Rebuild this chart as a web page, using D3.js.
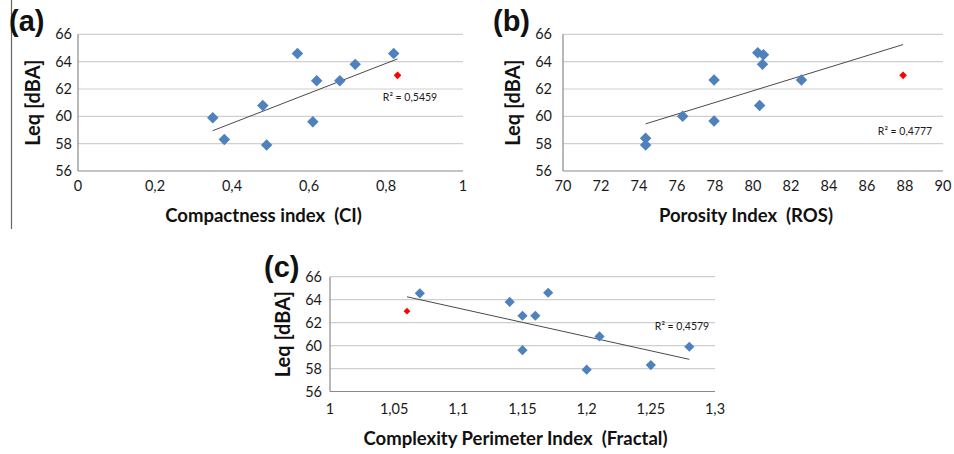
<!DOCTYPE html>
<html>
<head>
<meta charset="utf-8">
<script src="https://cdn.jsdelivr.net/npm/d3@7"></script>
<style>
  body { margin: 0; background: #fff; }
  svg { display: block; font-family: Lato, "Open Sans", sans-serif; }
  text { white-space: pre; }
</style>
</head>
<body>
<div id="chart-area"></div>
<script>
// shared Leq ticks
var leqTicks = [56, 58, 60, 62, 64, 66];

// (a) compactness index
var ciX = [0.35, 0.38, 0.48, 0.49, 0.57, 0.61, 0.62, 0.68, 0.72, 0.82];
var ciY = [59.9, 58.3, 60.8, 57.9, 64.6, 59.6, 62.6, 62.6, 63.8, 64.6];
var ciOutlier = [0.83, 63.0];
var ciTrend = [[0.35, 58.95], [0.83, 64.2]];
var ciTicks = [0, 0.2, 0.4, 0.6, 0.8, 1];

// (b) porosity index
var rosX = [74.35, 74.35, 76.3, 77.95, 77.95, 80.25, 80.55, 80.5, 80.35, 82.55];
var rosY = [58.4, 57.9, 60.0, 62.65, 59.65, 64.65, 64.5, 63.8, 60.8, 62.65];
var rosOutlier = [87.9, 63.0];
var rosTrend = [[74.35, 59.45], [87.9, 65.25]];
var rosTicks = [70, 72, 74, 76, 78, 80, 82, 84, 86, 88, 90];

// (c) fractal complexity
var fracX = [1.07, 1.14, 1.15, 1.16, 1.17, 1.15, 1.21, 1.20, 1.25, 1.28];
var fracY = [64.55, 63.8, 62.6, 62.6, 64.6, 59.6, 60.8, 57.9, 58.3, 59.9];
var fracOutlier = [1.06, 63.0];
var fracTrend = [[1.06, 64.25], [1.28, 58.8]];
var fracTicks = [1, 1.05, 1.1, 1.15, 1.2, 1.25, 1.3];

var fmt = d3.formatLocale({ decimal: ",", thousands: ".", grouping: [3], currency: ["", ""] }).format(".2~f");

var svg = d3.select("#chart-area")
    .append("svg")
    .attr("width", 954)
    .attr("height", 454);

// stray frame line on the left of the original figure
svg.append("line")
    .attr("x1", 11.5).attr("x2", 11.5)
    .attr("y1", 0).attr("y2", 229)
    .attr("stroke", "#666").attr("stroke-width", 1.2);

var panels = [
    { label: "(a)", xs: ciX, ys: ciY, out: ciOutlier, trend: ciTrend, domain: [0, 1], ticks: ciTicks,
      title: "Compactness index  (CI)", r2: "R\u00b2 = 0,5459",
      left: 78, right: 463, top: 34.3, bottom: 171, tickGap: 6, size: 66,
      labelX: 9, labelY: 31, yTitleX: 33, xTitleY: 222, xTickY: 191, r2X: 410, r2Y: 101 },
    { label: "(b)", xs: rosX, ys: rosY, out: rosOutlier, trend: rosTrend, domain: [70, 90], ticks: rosTicks,
      title: "Porosity Index  (ROS)", r2: "R\u00b2 = 0,4777",
      left: 563, right: 943, top: 34.3, bottom: 171, tickGap: 11, size: 66,
      labelX: 493, labelY: 31, yTitleX: 513, xTitleY: 222, xTickY: 191, r2X: 905, r2Y: 135 },
    { label: "(c)", xs: fracX, ys: fracY, out: fracOutlier, trend: fracTrend, domain: [1, 1.3], ticks: fracTicks,
      title: "Complexity Perimeter Index  (Fractal)", r2: "R\u00b2 = 0,4579",
      left: 330, right: 715, top: 276.7, bottom: 391.5, tickGap: 8, size: 52,
      labelX: 264, labelY: 277, yTitleX: 283, xTitleY: 445, xTickY: 414, r2X: 682, r2Y: 330 }
];

panels.forEach(drawPanel);

function drawPanel(p) {
    var x = d3.scaleLinear().domain(p.domain).range([p.left, p.right]);
    var y = d3.scaleLinear().domain([56, 66]).range([p.bottom, p.top]);
    var g = svg.append("g");

    // gridlines
    g.selectAll("line.grid").data(leqTicks.slice(1)).enter().append("line")
        .attr("class", "grid")
        .attr("x1", p.left).attr("x2", p.right)
        .attr("y1", d => y(d)).attr("y2", d => y(d))
        .attr("stroke", "#cfcfcf").attr("stroke-width", 1.2);

    // axes lines
    g.append("line")
        .attr("x1", p.left).attr("x2", p.right)
        .attr("y1", p.bottom).attr("y2", p.bottom)
        .attr("stroke", "#8a8a8a").attr("stroke-width", 1.2);
    g.append("line")
        .attr("x1", p.left).attr("x2", p.left)
        .attr("y1", p.top).attr("y2", p.bottom)
        .attr("stroke", "#8a8a8a").attr("stroke-width", 1.2);

    // y tick labels
    g.selectAll("text.ytick").data(leqTicks).enter().append("text")
        .attr("class", "ytick")
        .attr("x", p.left - p.tickGap)
        .attr("y", d => y(d))
        .attr("dy", "0.35em")
        .attr("text-anchor", "end")
        .attr("font-size", 14.5)
        .attr("fill", "#1a1a1a")
        .text(d => d);

    // x tick labels
    g.selectAll("text.xtick").data(p.ticks).enter().append("text")
        .attr("class", "xtick")
        .attr("x", d => x(d))
        .attr("y", p.xTickY)
        .attr("text-anchor", "middle")
        .attr("font-size", 14.5)
        .attr("fill", "#1a1a1a")
        .text(d => fmt(d));

    // trend line
    g.append("line")
        .attr("x1", x(p.trend[0][0])).attr("y1", y(p.trend[0][1]))
        .attr("x2", x(p.trend[1][0])).attr("y2", y(p.trend[1][1]))
        .attr("stroke", "#4a4a4a").attr("stroke-width", 1);

    // points
    var pts = p.xs.map((v, i) => [v, p.ys[i]]);
    var diamond = d3.symbol().type(d3.symbolSquare).size(p.size);
    g.selectAll("path.pt").data(pts).enter().append("path")
        .attr("class", "pt")
        .attr("d", diamond)
        .attr("transform", d => "translate(" + x(d[0]) + "," + y(d[1]) + ") rotate(45)")
        .attr("fill", "#4f81bd");

    g.append("path")
        .attr("d", d3.symbol().type(d3.symbolSquare).size(p.size * 0.45))
        .attr("transform", "translate(" + x(p.out[0]) + "," + y(p.out[1]) + ") rotate(45)")
        .attr("fill", "#ff0000");

    // r squared
    g.append("text")
        .attr("x", p.r2X).attr("y", p.r2Y)
        .attr("text-anchor", "middle")
        .attr("font-size", 10.5)
        .attr("fill", "#1a1a1a")
        .text(p.r2);

    // titles
    g.append("text")
        .attr("x", (p.left + p.right) / 2 - 7)
        .attr("y", p.xTitleY)
        .attr("text-anchor", "middle")
        .attr("font-size", 18.5)
        .attr("font-weight", "bold")
        .attr("fill", "#111")
        .text(p.title);

    g.append("text")
        .attr("transform", "translate(" + p.yTitleX + "," + (p.top + p.bottom) / 2 + ") rotate(-90)")
        .attr("dy", "0.35em")
        .attr("text-anchor", "middle")
        .attr("font-size", 20)
        .attr("font-weight", "bold")
        .attr("fill", "#111")
        .text("Leq [dBA]");

    g.append("text")
        .attr("x", p.labelX).attr("y", p.labelY)
        .attr("font-family", "Liberation Sans, Arial, sans-serif")
        .attr("font-size", 29)
        .attr("font-weight", "bold")
        .attr("fill", "#111")
        .text(p.label);
}
</script>
</body>
</html>
